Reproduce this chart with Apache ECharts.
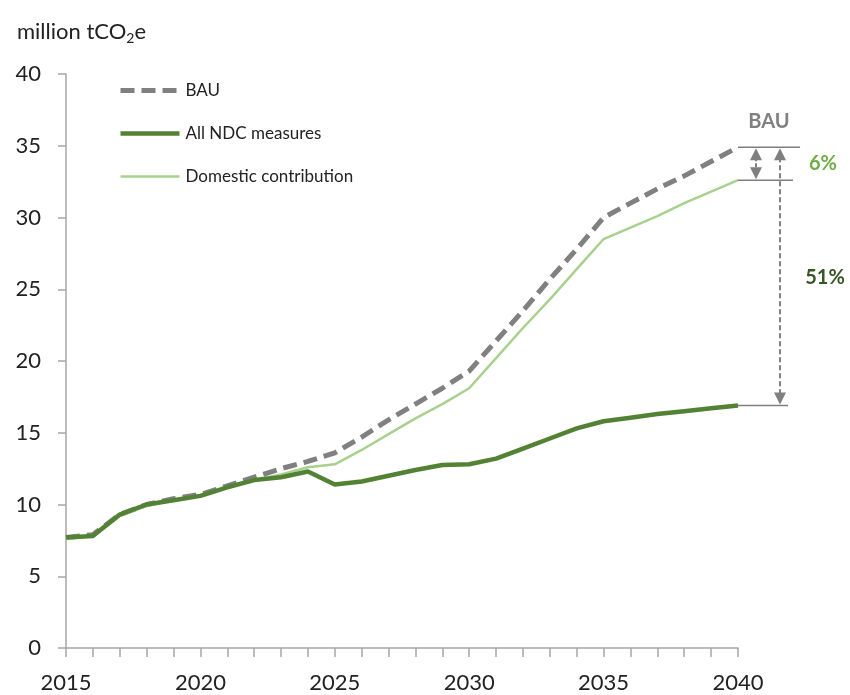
<!DOCTYPE html>
<html><head><meta charset="utf-8">
<script src="https://cdn.jsdelivr.net/npm/echarts@6/dist/echarts.min.js"></script>
<style>html,body{margin:0;padding:0;background:#fff}#c{width:850px;height:695px}</style>
</head><body><div id="c"></div>
<script>
const years = [2015,2016,2017,2018,2019,2020,2021,2022,2023,2024,2025,2026,2027,2028,2029,2030,2031,2032,2033,2034,2035,2036,2037,2038,2039,2040];
const bau = [7.7,7.9,9.3,10.0,10.4,10.7,11.3,11.9,12.5,13.0,13.6,14.7,15.9,17.0,18.1,19.3,21.4,23.5,25.7,27.8,30.0,31.0,32.0,32.9,33.9,34.9];
const ndc = [7.7,7.8,9.3,10.0,10.3,10.6,11.2,11.7,11.9,12.3,11.4,11.6,12.0,12.4,12.75,12.8,13.2,13.9,14.6,15.3,15.8,16.05,16.3,16.5,16.7,16.9];
const domestic = [7.6,7.8,9.2,9.9,10.3,10.6,11.2,11.7,12.1,12.6,12.8,13.8,14.9,16.0,17.0,18.1,20.2,22.3,24.3,26.4,28.5,29.3,30.1,31.0,31.8,32.6];
const yTicks = [0,5,10,15,20,25,30,35,40];
const annot = { bauLabel: 'BAU', pctDomestic: '6%', pctNdc: '51%' };

const FONT = 'Lato, "Open Sans", sans-serif';
const chart = echarts.init(document.getElementById('c'));
const pair = arr => years.map((y,i)=>[y,arr[i]]);
chart.setOption({
  animation:false,
  textStyle:{fontFamily:FONT},
  title:{left:12,top:14,text:'{a|million tCO}{s|2}{a|e}',textStyle:{fontWeight:'normal',rich:{a:{fontSize:22,fontWeight:'normal',color:'#222',fontFamily:FONT},s:{fontSize:14,fontWeight:'normal',color:'#222',fontFamily:FONT,verticalAlign:'bottom',padding:[12,0,0,0]}}}},
  grid:{left:66,right:112,top:74,bottom:47,containLabel:false},
  legend:{orient:'vertical',left:113,top:77,itemWidth:59,itemHeight:10,itemGap:26,
    itemStyle:{opacity:0},
    lineStyle:{width:'inherit'},
    textStyle:{fontSize:17,color:'#222',fontFamily:FONT,padding:[0,0,0,1]},
    data:['BAU','All NDC measures','Domestic contribution']},
  xAxis:{type:'value',min:2015,max:2040,interval:1,
    axisLine:{lineStyle:{color:'#a6a6a6',width:1.5}},
    axisTick:{length:9,lineStyle:{color:'#a6a6a6',width:1.5}},
    splitLine:{show:false},
    axisLabel:{fontSize:22,color:'#222',margin:24,fontFamily:FONT,formatter:v=>v%5===0?String(v):''}},
  yAxis:{type:'value',min:yTicks[0],max:yTicks[yTicks.length-1],interval:5,
    axisLine:{show:true,lineStyle:{color:'#a6a6a6',width:1.5}},
    axisTick:{show:true,length:8,lineStyle:{color:'#a6a6a6',width:1.5}},
    splitLine:{show:false},
    axisLabel:{fontSize:22,color:'#222',margin:25,fontFamily:FONT}},
  series:[
    {name:'BAU',type:'line',data:pair(bau),symbol:'none',z:3,
      lineStyle:{color:'#808080',width:5,type:[14,7]},itemStyle:{color:'#808080'}},
    {name:'Domestic contribution',type:'line',data:pair(domestic),symbol:'none',z:4,
      lineStyle:{color:'#a9d18e',width:2.5},itemStyle:{color:'#a9d18e'}},
    {name:'All NDC measures',type:'line',data:pair(ndc),symbol:'none',z:5,
      lineStyle:{color:'#548235',width:4.5},itemStyle:{color:'#548235'}}
  ]
});

// annotations anchored to data through the chart's own scales
const last = years.length-1;
const pB = chart.convertToPixel({gridIndex:0},[years[last],bau[last]]);
const pD = chart.convertToPixel({gridIndex:0},[years[last],domestic[last]]);
const pN = chart.convertToPixel({gridIndex:0},[years[last],ndc[last]]);
const x0 = pB[0];
const gray = '#7f7f7f';
const ax1 = x0+18, ax2 = x0+42;
function tri(x,y,dir){ // dir -1 up, +1 down; y is tip
  return {type:'polygon',shape:{points:[[x,y],[x-6,y-dir*12],[x+6,y-dir*12]]},style:{fill:gray},z:10};
}
const g = [
  {type:'line',shape:{x1:x0,y1:pB[1],x2:x0+62,y2:pB[1]},style:{stroke:gray,lineWidth:1.5},z:10},
  {type:'line',shape:{x1:x0,y1:pD[1],x2:x0+55,y2:pD[1]},style:{stroke:gray,lineWidth:1.5},z:10},
  {type:'line',shape:{x1:x0,y1:pN[1],x2:x0+50,y2:pN[1]},style:{stroke:gray,lineWidth:1.5},z:10},
  {type:'line',shape:{x1:ax1,y1:pB[1]+10,x2:ax1,y2:pD[1]-10},style:{stroke:gray,lineWidth:2,lineDash:[4,2]},z:10},
  tri(ax1,pB[1]+1,-1), tri(ax1,pD[1]-1,1),
  {type:'line',shape:{x1:ax2,y1:pB[1]+10,x2:ax2,y2:pN[1]-10},style:{stroke:gray,lineWidth:2,lineDash:[5,3]},z:10},
  tri(ax2,pB[1]+1,-1), tri(ax2,pN[1]-1,1),
  {type:'text',x:x0+31,y:pB[1]-16,style:{text:annot.bauLabel,fill:'#808080',font:'bold 20px '+FONT,align:'center',verticalAlign:'bottom'},z:10},
  {type:'text',x:x0+85,y:(pB[1]+pD[1])/2,style:{text:annot.pctDomestic,fill:'#70ad47',font:'bold 20px '+FONT,align:'center',verticalAlign:'middle'},z:10},
  {type:'text',x:x0+87,y:(pB[1]+pN[1])/2+1,style:{text:annot.pctNdc,fill:'#375623',font:'bold 20px '+FONT,align:'center',verticalAlign:'middle'},z:10}
];
chart.setOption({graphic:g});
</script>
</body></html>
